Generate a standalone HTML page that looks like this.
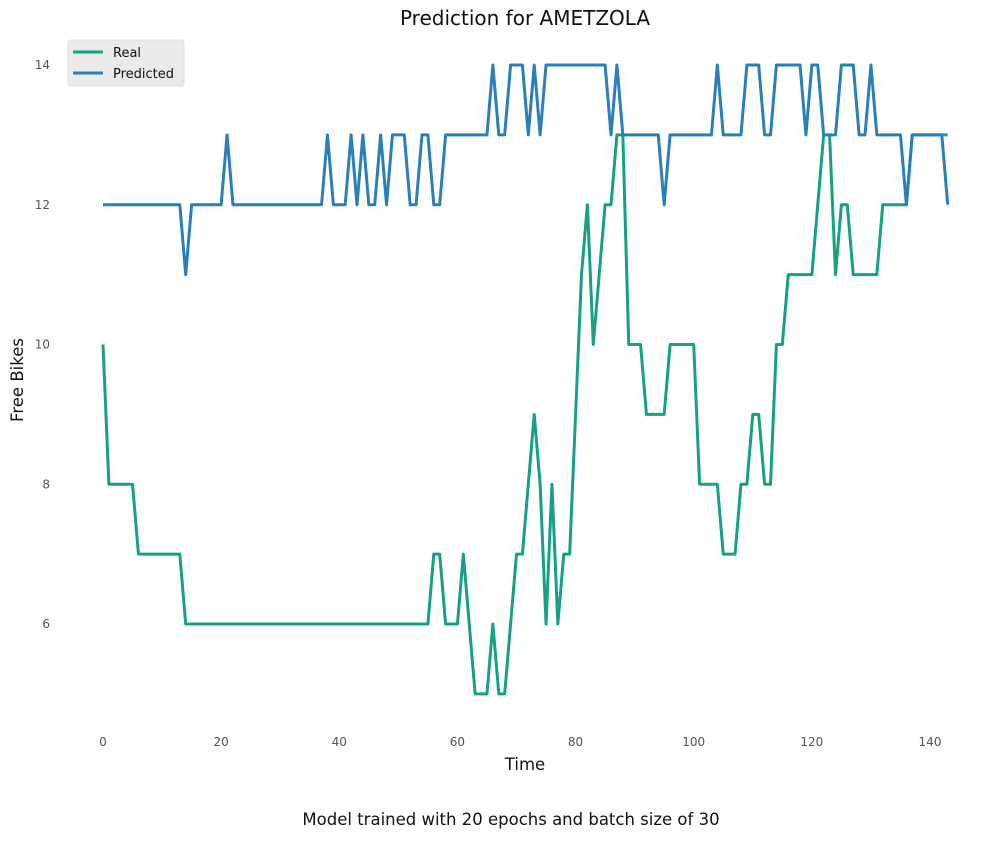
<!DOCTYPE html>
<html><head><meta charset="utf-8"><style>
body{margin:0;background:#fff;}
text{font-family:"DejaVu Sans","Liberation Sans",sans-serif;}
</style></head><body>
<svg id="chart" width="1004" height="839" viewBox="0 0 1004 839" xmlns="http://www.w3.org/2000/svg">
<text x="525" y="25" font-size="20" text-anchor="middle" fill="#111">Prediction for AMETZOLA</text>
<g id="yticks"></g><g id="xticks"></g>
<text x="525" y="770" font-size="16.5" text-anchor="middle" fill="#111">Time</text>
<text transform="translate(23,380) rotate(-90)" font-size="16.5" text-anchor="middle" fill="#111">Free Bikes</text>
<text x="511" y="825" font-size="16.5" text-anchor="middle" fill="#111">Model trained with 20 epochs and batch size of 30</text>
<g id="lines"></g>
<g>
<rect x="68" y="40" width="116" height="46" rx="3" fill="#eaeaea" stroke="#ddd"/>
<line x1="73" y1="52" x2="103" y2="52" stroke="#17a085" stroke-width="3"/>
<text x="113" y="57" font-size="13" fill="#111">Real</text>
<line x1="73" y1="73" x2="103" y2="73" stroke="#2a7fba" stroke-width="3"/>
<text x="113" y="78" font-size="13" fill="#111">Predicted</text>
</g>
</svg>
<script>
const xTicks=[0,20,40,60,80,100,120,140];
const yTicks=[6,8,10,12,14];
const realValues=[10,8,8,8,8,8,7,7,7,7,7,7,7,7,
6,6,6,6,6,6,6,6,6,6,6,6,6,6,6,6,6,6,6,6,6,6,6,6,6,6,6,6,6,6,6,6,6,6,6,6,6,6,6,6,6,6,
7,7,6,6,6,7,6,5,5,5,6,5,5,6,7,7,8,9,8,6,8,6,7,7,9,11,12,10,11,12,12,13,13,10,10,10,9,9,9,9,
10,10,10,10,10,8,8,8,8,7,7,7,8,8,9,9,8,8,10,10,11,11,11,11,11,12,13,13,11,12,12,11,11,11,11,11,12,12,12,12,
12,13,13,13,13,13,13,13];
const predictedValues=[12,12,12,12,12,12,12,12,12,12,
12,12,12,12,11,12,12,12,12,12,
12,13,12,12,12,12,12,12,12,12,
12,12,12,12,12,12,12,12,13,12,
12,12,13,12,13,12,12,13,12,13,
13,13,12,12,13,13,12,12,13,13,
13,13,13,13,13,13,14,13,13,14,
14,14,13,14,13,14,14,14,14,14,
14,14,14,14,14,14,13,14,13,13,
13,13,13,13,13,12,13,13,13,13,
13,13,13,13,14,13,13,13,13,14,
14,14,13,13,14,14,14,14,14,13,
14,14,13,13,13,14,14,14,13,13,
14,13,13,13,13,13,12,13,13,13,
13,13,13,12];
const sx=i=>103+(930-103)*i/140;
const sy=v=>624-(624-65)*(v-6)/8;
const NS='http://www.w3.org/2000/svg';
const yt=document.getElementById('yticks');
yTicks.forEach(v=>{const t=document.createElementNS(NS,'text');


t.setAttribute('x',50);t.setAttribute('y',sy(v)+4);t.setAttribute('font-size','12');t.setAttribute('text-anchor','end');t.setAttribute('fill','#555');t.textContent=v;yt.appendChild(t);});
const xt=document.getElementById('xticks');
xTicks.forEach(v=>{const t=document.createElementNS(NS,'text');


t.setAttribute('x',sx(v));t.setAttribute('y',746);t.setAttribute('font-size','12');t.setAttribute('text-anchor','middle');t.setAttribute('fill','#555');t.textContent=v;xt.appendChild(t);});
const lg=document.getElementById('lines');
function draw(vals,color,name){const p=document.createElementNS(NS,'polyline');


p.setAttribute('points',vals.map((v,i)=>sx(i).toFixed(2)+','+sy(v).toFixed(2)).join(' '));
p.setAttribute('fill','none');p.setAttribute('stroke',color);p.setAttribute('stroke-width','3');p.setAttribute('stroke-linejoin','round');lg.appendChild(p);}
draw(realValues,'#17a085','real-line');
draw(predictedValues,'#2a7fba','predicted-line');
</script>
</body></html>
